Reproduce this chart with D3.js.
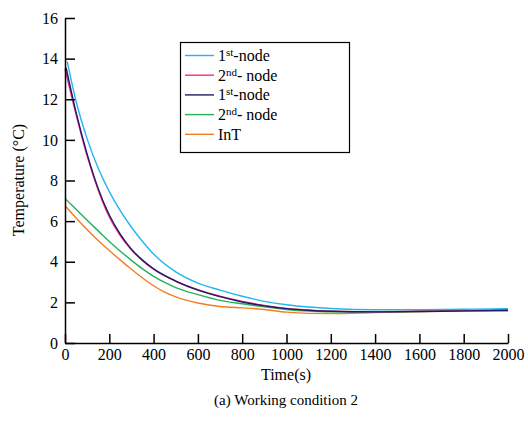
<!DOCTYPE html>
<html>
<head>
<meta charset="utf-8">
<script src="https://cdn.jsdelivr.net/npm/d3@7"></script>
<style>
  body { margin: 0; background: #fff; }
  svg text { font-family: "Liberation Serif", "DejaVu Serif", serif; fill: #000; }
</style>
</head>
<body>
<svg id="chart" width="528" height="421"></svg>
<script>
// data: [time (s), temperature (°C)]
var cyanNode1 = [[10,13.85],[50,11.9],[100,10.05],[150,8.6],[200,7.45],[250,6.5],[300,5.7],[350,5.0],[400,4.38],[500,3.5],[600,2.95],[700,2.6],[800,2.3],[900,2.05],[1000,1.88],[1100,1.77],[1200,1.7],[1400,1.64],[1600,1.64],[1800,1.66],[2000,1.69]];
var pinkNode2 = [[0,13.5],[50,11.25],[100,9.2],[150,7.52],[200,6.2],[250,5.28],[300,4.58],[350,4.05],[400,3.63],[500,3.04],[600,2.62],[700,2.3],[800,2.05],[900,1.85],[1000,1.7],[1100,1.62],[1200,1.57],[1400,1.54],[1600,1.56],[1800,1.58],[2000,1.6]];
var navyNode1 = [[5,13.55],[50,11.35],[100,9.3],[150,7.6],[200,6.3],[250,5.35],[300,4.62],[350,4.08],[400,3.65],[500,3.05],[600,2.6],[700,2.28],[800,2.02],[900,1.83],[1000,1.69],[1100,1.61],[1200,1.56],[1400,1.53],[1600,1.55],[1800,1.58],[2000,1.6]];
var greenNode2 = [[0,7.12],[50,6.58],[100,6.04],[150,5.52],[200,5.0],[250,4.52],[300,4.07],[350,3.65],[400,3.28],[450,2.98],[500,2.73],[600,2.38],[700,2.1],[800,1.93],[900,1.78],[1000,1.65],[1100,1.57],[1200,1.53],[1400,1.52],[1600,1.55],[1800,1.6],[2000,1.65]];
var orangeInT = [[0,6.76],[50,6.15],[100,5.58],[150,5.05],[200,4.55],[250,4.08],[300,3.63],[350,3.2],[400,2.82],[450,2.5],[500,2.27],[550,2.1],[600,1.97],[650,1.87],[700,1.8],[800,1.73],[850,1.7],[900,1.65],[1000,1.52],[1100,1.46],[1200,1.45],[1400,1.5],[1600,1.55],[1800,1.58],[2000,1.62]];

var xTicks = [0,200,400,600,800,1000,1200,1400,1600,1800,2000];
var yTicks = [0,2,4,6,8,10,12,14,16];

var legendItems = [
  {color:"#22b5f0", main:"1", sup:"st", rest:"-node"},
  {color:"#ff2a7f", main:"2", sup:"nd", rest:"- node"},
  {color:"#1c1c66", main:"1", sup:"st", rest:"-node"},
  {color:"#22b35a", main:"2", sup:"nd", rest:"- node"},
  {color:"#f57c20", main:"InT", sup:"", rest:""}
];

(function(){
var svg = d3.select("#chart");
var pLeft = 65, pRight = 508, pTop = 18, pBottom = 343;

var x = d3.scaleLinear().domain([0,2000]).range([pLeft,pRight]);
var y = d3.scaleLinear().domain([0,16]).range([pBottom,pTop]);

// curves
var line = d3.line().x(function(d){return x(d[0]);}).y(function(d){return y(d[1]);}).curve(d3.curveMonotoneX);
var series = [
  {data:orangeInT, color:"#f57c20"},
  {data:greenNode2, color:"#22b35a"},
  {data:cyanNode1, color:"#22b5f0"},
  {data:pinkNode2, color:"#ff2a7f"},
  {data:navyNode1, color:"#1c1c66"}
];
series.forEach(function(s){
  svg.append("path").datum(s.data).attr("d", line)
    .attr("fill","none").attr("stroke", s.color).attr("stroke-width", 1.4);
});

// axes, ticks pointing inward
var axisX = d3.axisBottom(x).tickValues(xTicks).tickSizeInner(-9).tickSizeOuter(0).tickPadding(6).tickFormat(d3.format("d"));
var axisY = d3.axisLeft(y).tickValues(yTicks).tickSizeInner(-10).tickSizeOuter(0).tickPadding(7).tickFormat(d3.format("d"));

var gx = svg.append("g").attr("transform","translate(0,"+pBottom+")").call(axisX);
var gy = svg.append("g").attr("transform","translate("+pLeft+",0)").call(axisY);
[gx, gy].forEach(function(g){
  g.attr("font-family", null);
  g.select(".domain").attr("stroke","#000").attr("stroke-width",1.5);
  g.selectAll(".tick line").attr("stroke","#000").attr("stroke-width",1.5);
  g.selectAll(".tick text").attr("font-size",16);
});

// titles
svg.append("text").attr("x", 286).attr("y", 380).attr("text-anchor","middle").attr("font-size",16).text("Time(s)");
svg.append("text").attr("x", 286).attr("y", 405).attr("text-anchor","middle").attr("font-size",15).text("(a) Working condition 2");
svg.append("text").attr("transform","translate(24,180) rotate(-90)").attr("text-anchor","middle").attr("font-size",16).text("Temperature (\u00B0C)");

// legend
var lg = svg.append("g");
lg.append("rect").attr("x",180.5).attr("y",42.5).attr("width",169).attr("height",110)
  .attr("fill","#fff").attr("stroke","#000").attr("stroke-width",1.2);
legendItems.forEach(function(it, i){
  var cy = 55.5 + i*19.7;
  lg.append("line").attr("x1",185).attr("x2",214).attr("y1",cy).attr("y2",cy)
    .attr("stroke", it.color).attr("stroke-width",1.4);
  var t = lg.append("text").attr("x",218).attr("y",cy+5.5).attr("font-size",16);
  t.append("tspan").text(it.main);
  if (it.sup) {
    t.append("tspan").attr("font-size",11).attr("dy",-5).text(it.sup);
    t.append("tspan").attr("dy",5).text(it.rest);
  }
});
})();
</script>
</body>
</html>
